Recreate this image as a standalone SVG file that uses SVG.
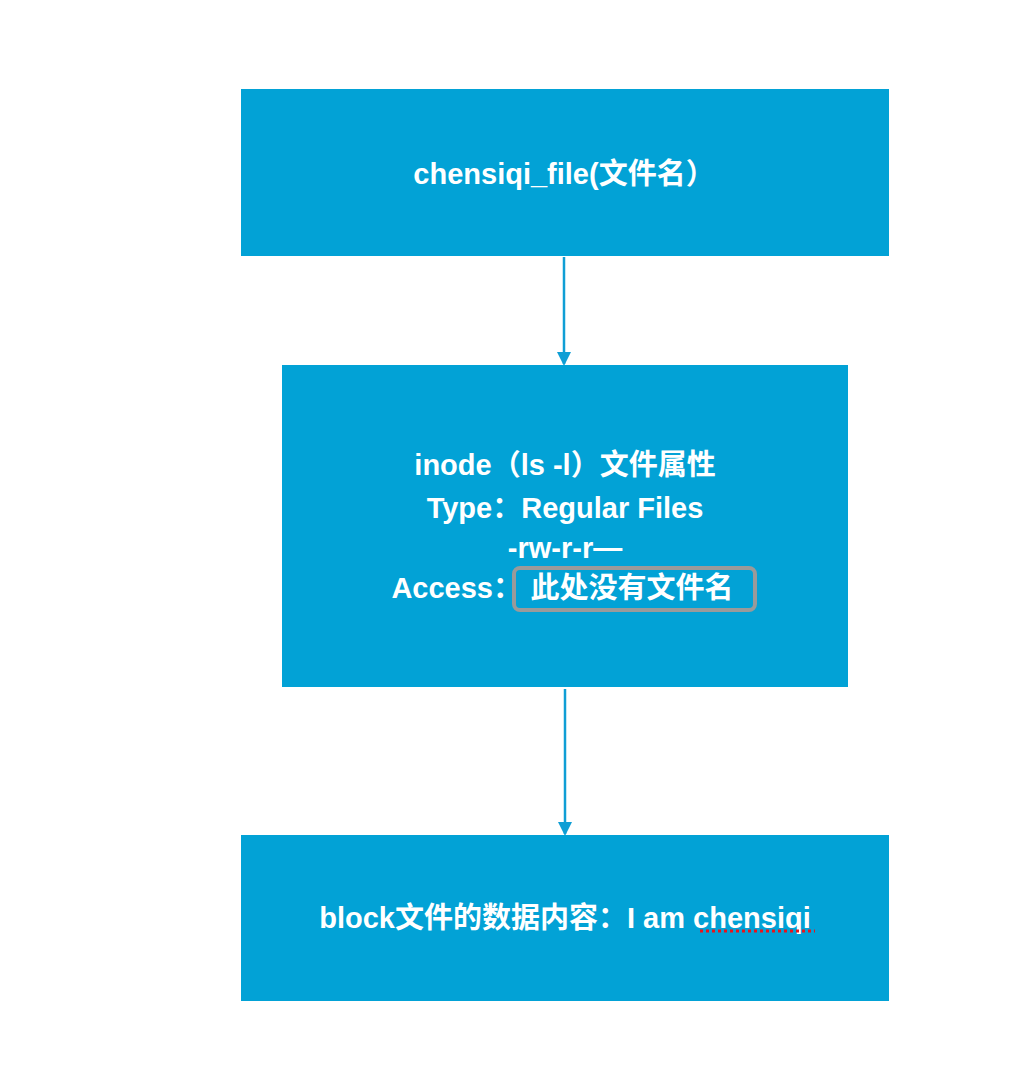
<svg xmlns="http://www.w3.org/2000/svg" width="1036" height="1082" viewBox="0 0 1036 1082">
<defs>
<style>
.box{fill:#02a2d6;}
.t{font-family:"Liberation Sans","Noto Sans CJK SC",sans-serif;font-weight:bold;font-size:29px;fill:#ffffff;text-anchor:middle;}
.conn{stroke:#0f9ed5;stroke-width:2.5;fill:none;}
</style>
<marker id="ah" markerWidth="14" markerHeight="14" refX="12" refY="7" orient="auto" markerUnits="userSpaceOnUse">
<path d="M0,0 L14,7 L0,14 Z" fill="#0f9ed5"/>
</marker>
</defs>
<rect width="1036" height="1082" fill="#ffffff"/>
<g id="connectors">
<line class="conn" x1="564" y1="257" x2="564" y2="364" marker-end="url(#ah)"/>
<line class="conn" x1="565" y1="689" x2="565" y2="834" marker-end="url(#ah)"/>
</g>
<g id="node-file">
<rect class="box" x="241" y="89" width="648" height="167"/>
<text class="t" x="564" y="184">chensiqi_file(文件名）</text>
</g>
<g id="node-inode">
<rect class="box" x="282" y="365" width="566" height="322"/>
<text class="t" x="565" y="475">inode（ls -l）文件属性</text>
<text class="t" x="565" y="518">Type：Regular Files</text>
<text class="t" x="565" y="558">-rw-r-r—</text>
<text class="t" x="565" y="598"><tspan x="522" text-anchor="end">Access：</tspan><tspan x="632">此处没有文件名</tspan></text>
<rect x="514" y="568" width="241" height="42" rx="6" fill="none" stroke="#9a9a9a" stroke-width="4"/>
</g>
<g id="node-block">
<rect class="box" x="241" y="835" width="648" height="166"/>
<text class="t" x="565" y="928">block文件的数据内容：I am chensiqi</text>
<line x1="700" y1="931" x2="815" y2="931" stroke="#e8141c" stroke-width="3" stroke-dasharray="3,3"/>
</g>
</svg>
